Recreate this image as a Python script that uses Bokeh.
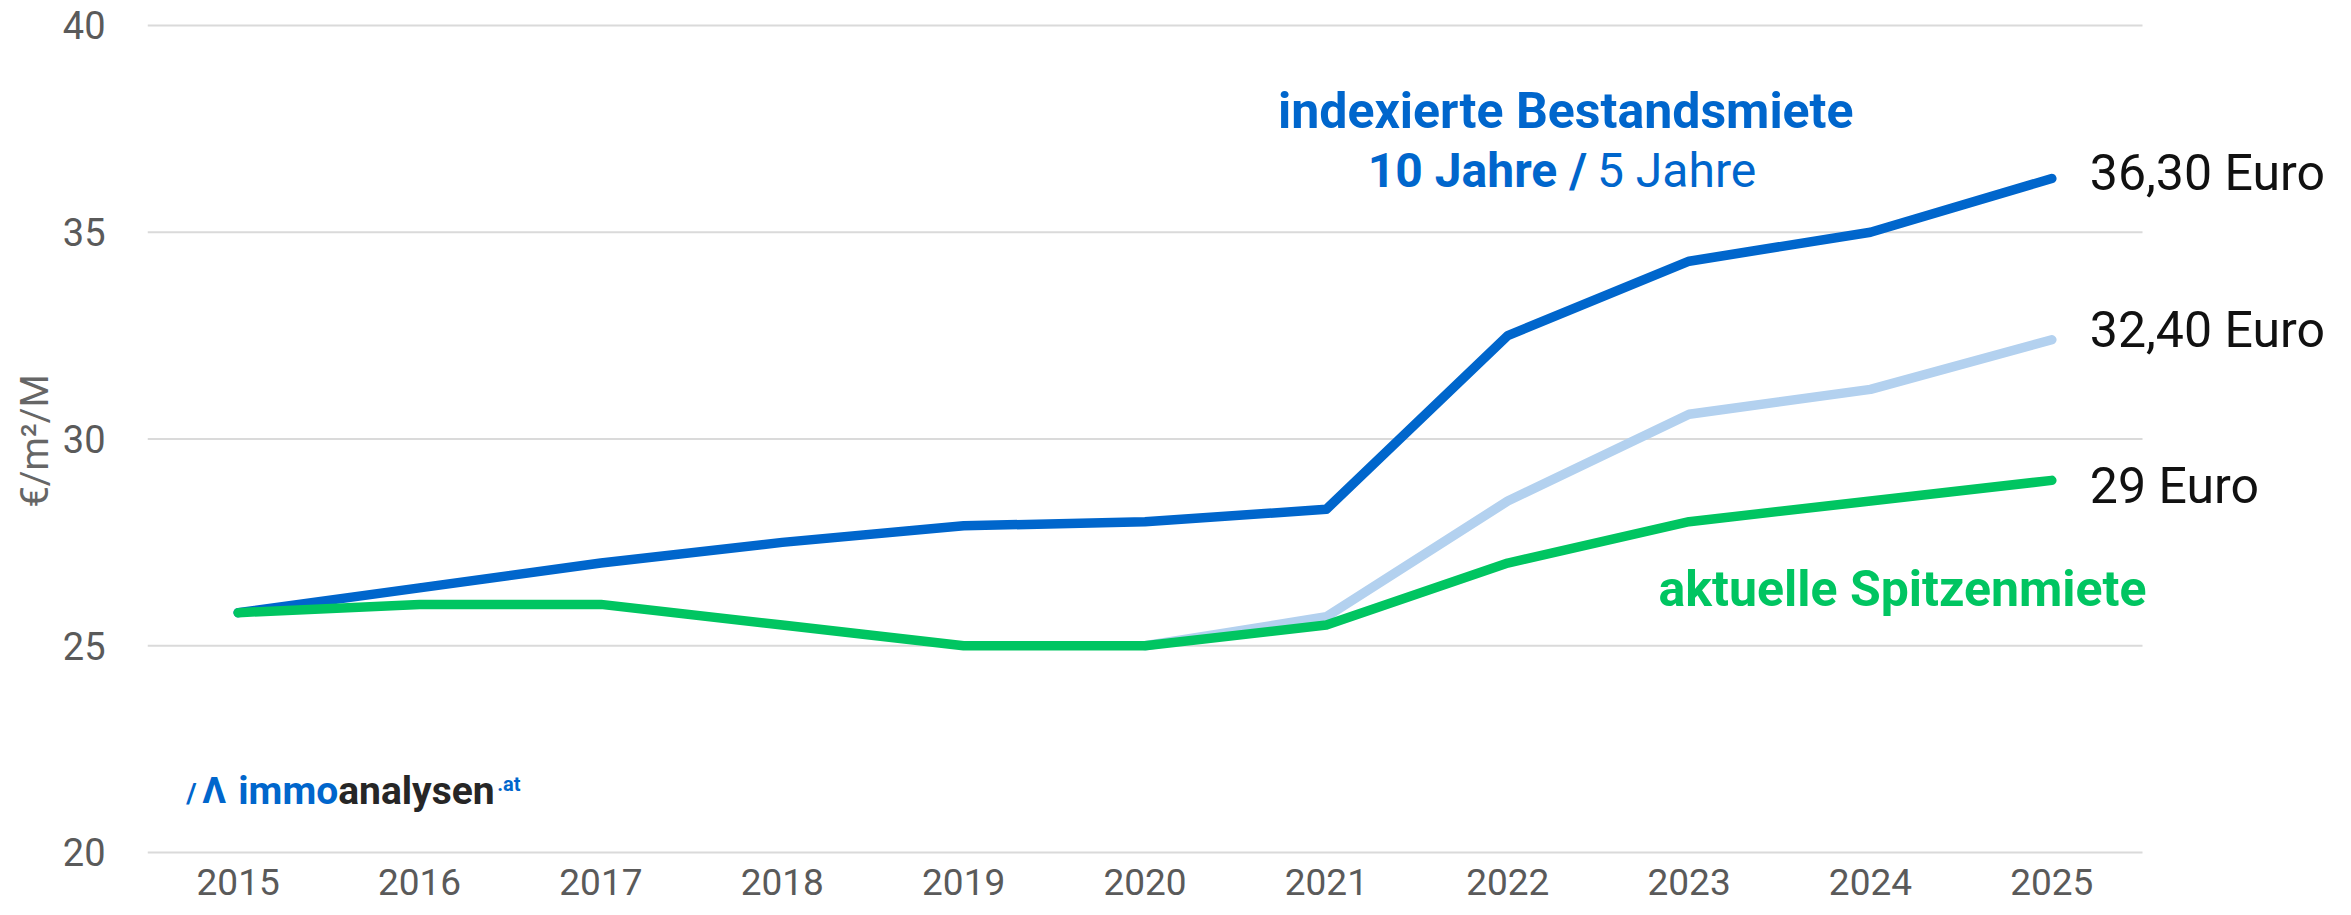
from bokeh.plotting import figure
from bokeh.models import Range1d, FixedTicker, Label, ColumnDataSource
from bokeh.embed import file_html
from bokeh.resources import INLINE

# ---------------- data ----------------
years = [2015, 2016, 2017, 2018, 2019, 2020, 2021, 2022, 2023, 2024, 2025]
bestand_10 = [25.8, 26.4, 27.0, 27.5, 27.9, 28.0, 28.3, 32.5, 34.3, 35.0, 36.3]
years_5 = [2020, 2021, 2022, 2023, 2024, 2025]
bestand_5 = [25.0, 25.7, 28.5, 30.6, 31.2, 32.4]
spitzen = [25.8, 26.0, 26.0, 25.5, 25.0, 25.0, 25.5, 27.0, 28.0, 28.5, 29.0]
y_ticks = [20, 25, 30, 35, 40]
end_labels = ["36,30 Euro", "32,40 Euro", "29 Euro"]
title_line1 = "indexierte Bestandsmiete"
title_bold = "10 Jahre /"
title_light = "5 Jahre"
green_label = "aktuelle Spitzenmiete"
y_label = "€/m²/M"

# ---------------- styles / layout ----------------
DARK = "#0066CC"
LIGHT = "#B3D1EF"
GREEN = "#00C561"
FONT = "Roboto"
W, H = 2351, 915
BL, BR, BT, BB = 147, 8, 19, 53
X0, X1 = 2014.5, 2025.5                # visible grid extent
GRID_W = 1995                          # px width of the gridded area
X_END = X0 + (X1 - X0) * (W - BL - BR) / GRID_W
Y_START, Y_END = 19.758, 40.145


def corr(fs):
    # baseline compensation for Label text (px, upward)
    return round(0.34 * fs)


p = figure(width=W, height=H,
           x_range=Range1d(X0, X_END), y_range=Range1d(Y_START, Y_END),
           output_backend="svg", toolbar_location=None,
           min_border_left=BL, min_border_right=BR,
           min_border_top=BT, min_border_bottom=BB)
p.outline_line_color = None
p.background_fill_color = "white"
p.border_fill_color = "white"

p.xgrid.grid_line_color = None
p.ygrid.grid_line_color = None

for ax in (p.xaxis[0], p.yaxis[0]):
    ax.axis_line_color = None
    ax.major_tick_line_color = None
    ax.minor_tick_line_color = None
    ax.major_label_text_font = FONT
    ax.major_label_text_color = "#5a5a5a"

p.xaxis.ticker = FixedTicker(ticks=years)
p.xaxis.major_label_text_font_size = "37px"
p.xaxis.major_label_standoff = 0

p.yaxis.ticker = FixedTicker(ticks=y_ticks)
p.yaxis.major_label_text_font_size = "38px"
p.yaxis.major_label_standoff = 36
p.yaxis.axis_label = y_label
p.yaxis.axis_label_text_font = FONT
p.yaxis.axis_label_text_font_size = "38px"
p.yaxis.axis_label_text_font_style = "normal"
p.yaxis.axis_label_text_color = "#666666"
p.yaxis.axis_label_standoff = 3

# horizontal grid lines limited to the data area
p.segment(x0=[X0] * len(y_ticks), x1=[X1] * len(y_ticks), y0=y_ticks, y1=y_ticks,
          line_color="#dadada", line_width=2)

src10 = ColumnDataSource(dict(x=years, y=bestand_10))
src5 = ColumnDataSource(dict(x=years_5, y=bestand_5))
srcg = ColumnDataSource(dict(x=years, y=spitzen))

p.line("x", "y", source=src10, line_color=DARK, line_width=9.5,
       line_cap="round", line_join="round")
p.line("x", "y", source=src5, line_color=LIGHT, line_width=9.5,
       line_cap="round", line_join="round")
p.line("x", "y", source=srcg, line_color=GREEN, line_width=9.5,
       line_cap="round", line_join="round")

# end-of-line value labels
END_FS = 50
end_vals = [bestand_10[-1], bestand_5[-1], spitzen[-1]]
end_dy = [-12, -7, -23]
for txt, v, dy in zip(end_labels, end_vals, end_dy):
    p.add_layout(Label(x=years[-1], y=v, x_offset=38, y_offset=dy + corr(END_FS), text=txt,
                       text_font=FONT, text_font_size=f"{END_FS}px", text_color="#111111",
                       text_align="left", text_baseline="alphabetic"))

# title annotation
p.add_layout(Label(x=2022.32, y=37.51, y_offset=corr(50), text=title_line1, text_font=FONT,
                   text_font_size="50px", text_font_style="bold", text_color=DARK,
                   text_align="center", text_baseline="alphabetic"))
p.add_layout(Label(x=2022.47, y=36.11, x_offset=-6, y_offset=corr(48), text=title_bold,
                   text_font=FONT, text_font_size="48px", text_font_style="bold",
                   text_color=DARK, text_align="right", text_baseline="alphabetic"))
p.add_layout(Label(x=2022.47, y=36.11, x_offset=4, y_offset=corr(48), text=title_light,
                   text_font=FONT, text_font_size="48px", text_font_style="normal",
                   text_color=DARK, text_align="left", text_baseline="alphabetic"))

# green annotation
p.add_layout(Label(x=X1, y=25.97, x_offset=4, y_offset=corr(50), text=green_label,
                   text_font=FONT, text_font_size="50px", text_font_style="bold",
                   text_color=GREEN, text_align="right", text_baseline="alphabetic"))

# logo
LOGO_Y = 21.18
p.add_layout(Label(x=2015, y=LOGO_Y, x_offset=-52, y_offset=corr(28), text="/",
                   text_font=FONT, text_font_size="28px", text_font_style="bold",
                   text_color=DARK, text_align="left", text_baseline="alphabetic"))
p.add_layout(Label(x=2015, y=LOGO_Y, x_offset=-36, y_offset=corr(37), text="Λ",
                   text_font=FONT, text_font_size="37px", text_font_style="bold",
                   text_color=DARK, text_align="left", text_baseline="alphabetic"))
p.add_layout(Label(x=2015, y=LOGO_Y, x_offset=100, y_offset=corr(39), text="immo",
                   text_font=FONT, text_font_size="39px", text_font_style="bold",
                   text_color=DARK, text_align="right", text_baseline="alphabetic"))
p.add_layout(Label(x=2015, y=LOGO_Y, x_offset=100, y_offset=corr(39), text="analysen",
                   text_font=FONT, text_font_size="39px", text_font_style="bold",
                   text_color="#262626", text_align="left", text_baseline="alphabetic"))
p.add_layout(Label(x=2015, y=LOGO_Y, x_offset=259, y_offset=13 + corr(20), text=".at",
                   text_font=FONT, text_font_size="20px", text_font_style="bold",
                   text_color=DARK, text_align="left", text_baseline="alphabetic"))

open("out.html", "w").write(file_html(p, INLINE))
